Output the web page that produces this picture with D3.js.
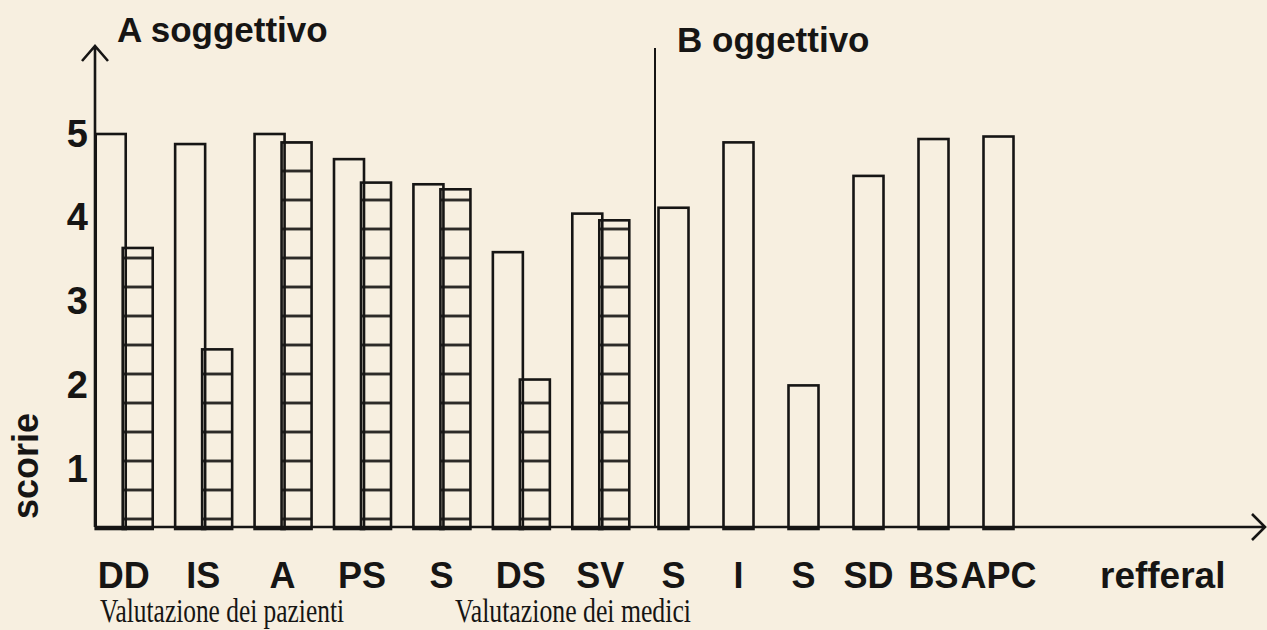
<!DOCTYPE html>
<html>
<head>
<meta charset="utf-8">
<script src="https://cdn.jsdelivr.net/npm/d3@7"></script>
<style>
  html, body { margin: 0; padding: 0; background: #f7efe0; }
  svg { display: block; }
</style>
</head>
<body>
<div id="chart"></div>
<script>
// valori
var categoriesA = ["DD", "IS", "A", "PS", "S", "DS", "SV"]
var pazienti = [5.0, 4.88, 5.0, 4.70, 4.40, 3.59, 4.05]   // barre bianche
var medici = [3.64, 2.43, 4.90, 4.42, 4.34, 2.07, 3.97]   // barre tratteggiate
var categoriesB = ["S", "I", "S", "SD", "BS", "APC"]
var oggettivo = [4.12, 4.90, 2.00, 4.50, 4.94, 4.97]
var yTicks = [1, 2, 3, 4, 5]

var width = 1267
var height = 630
var ink = '#161514'
var baseline = 527
var axisX = 95

var svg = d3.select('#chart')
    .append('svg')
    .attr('width', width)
    .attr('height', height)
    .style('background', '#f7efe0')

// tratteggio orizzontale delle barre "medici"
var step = 29
var hatch = svg.append('defs').append('pattern')
    .attr('id', 'hatch')
    .attr('patternUnits', 'userSpaceOnUse')
    .attr('x', 0)
    .attr('y', (baseline - 8 - step / 2) % step)
    .attr('width', 20)
    .attr('height', step)
hatch.append('line')
    .attr('x1', 0).attr('x2', 20)
    .attr('y1', step / 2).attr('y2', step / 2)
    .attr('stroke', ink)
    .attr('stroke-width', 2.6)

// scales
var y = d3.scaleLinear()
    .domain([0, 5])
    .range([553, 134])

var xA = d3.scaleBand()
    .domain(d3.range(categoriesA.length))
    .range([84, 640])

var xB = d3.scaleBand()
    .domain(d3.range(categoriesB.length))
    .range([641, 1031])

var barW = 30

function cA(i) { return xA(i) + xA.bandwidth() / 2 }
function cB(i) { return xB(i) + xB.bandwidth() / 2 }

// A: pazienti (bianche)
svg.append('g')
  .selectAll('rect')
  .data(pazienti)
  .join('rect')
    .attr('x', (d, i) => cA(i) - barW + 2)
    .attr('y', d => y(d))
    .attr('width', barW)
    .attr('height', d => baseline + 2 - y(d))
    .attr('fill', 'none')
    .attr('stroke', ink)
    .attr('stroke-width', 2.6)

// A: medici (tratteggiate)
svg.append('g')
  .selectAll('rect')
  .data(medici)
  .join('rect')
    .attr('x', (d, i) => cA(i) - 1)
    .attr('y', d => y(d))
    .attr('width', barW)
    .attr('height', d => baseline + 2 - y(d))
    .attr('fill', 'url(#hatch)')
    .attr('stroke', ink)
    .attr('stroke-width', 2.6)

// B: oggettivo
svg.append('g')
  .selectAll('rect')
  .data(oggettivo)
  .join('rect')
    .attr('x', (d, i) => cB(i) - barW / 2)
    .attr('y', d => y(d))
    .attr('width', barW)
    .attr('height', d => baseline + 2 - y(d))
    .attr('fill', 'none')
    .attr('stroke', ink)
    .attr('stroke-width', 2.6)

// assi con frecce
svg.append('path')
    .attr('d', `M${axisX},${baseline} V46 M${axisX - 13},61 L${axisX},46 L${axisX + 13},61`)
    .attr('fill', 'none')
    .attr('stroke', ink)
    .attr('stroke-width', 2.6)

svg.append('path')
    .attr('d', `M${axisX},${baseline} H1265 M1252,${baseline - 13} L1265,${baseline} L1252,${baseline + 13}`)
    .attr('fill', 'none')
    .attr('stroke', ink)
    .attr('stroke-width', 2.6)

// separatore A / B
svg.append('line')
    .attr('x1', 655).attr('x2', 655)
    .attr('y1', 48).attr('y2', baseline)
    .attr('stroke', ink)
    .attr('stroke-width', 2)

var bold = '"Liberation Sans", Arial, Helvetica, sans-serif'

function yAxis(g) {
    g.attr('transform', `translate(${axisX}, 0)`)
     .call(d3.axisLeft(y).tickValues(yTicks).tickSize(0).tickPadding(7).tickFormat(d3.format('d')))
     .call(g => g.select('.domain').remove())
     .selectAll('text')
       .attr('fill', ink)
       .attr('font-family', bold)
       .attr('font-weight', 'bold')
       .attr('font-size', '38px')
}

function xAxis(scale, labels) {
    return function(g) {
        g.attr('transform', `translate(0, ${baseline})`)
         .call(d3.axisBottom(scale).tickSize(0).tickPadding(35).tickFormat(i => labels[i]))
         .call(g => g.select('.domain').remove())
         .selectAll('text')
           .attr('fill', ink)
           .attr('font-family', bold)
           .attr('font-weight', 'bold')
           .attr('font-size', '36px')
    }
}

svg.append('g').call(yAxis)
svg.append('g').call(xAxis(xA, categoriesA))
svg.append('g').call(xAxis(xB, categoriesB))

svg.append('text')
   .attr('x', 1100)
   .attr('y', 588)
   .attr('fill', ink)
   .attr('font-family', bold)
   .attr('font-weight', 'bold')
   .attr('font-size', '37px')
   .text('refferal')

svg.append('text')
   .attr('transform', 'translate(38, 466) rotate(-90)')
   .attr('text-anchor', 'middle')
   .attr('fill', ink)
   .attr('font-family', bold)
   .attr('font-weight', 'bold')
   .attr('font-size', '36px')
   .text('scorie')

// titoli
svg.append('text')
   .attr('x', 117)
   .attr('y', 42)
   .attr('fill', ink)
   .attr('font-family', bold)
   .attr('font-weight', 'bold')
   .attr('font-size', '35px')
   .text('A soggettivo')

svg.append('text')
   .attr('x', 677)
   .attr('y', 52)
   .attr('fill', ink)
   .attr('font-family', bold)
   .attr('font-weight', 'bold')
   .attr('font-size', '35px')
   .text('B oggettivo')

// didascalie
var serif = '"Liberation Serif", "Times New Roman", serif'
svg.append('text')
   .attr('x', 100)
   .attr('y', 622)
   .attr('fill', ink)
   .attr('font-family', serif)
   .attr('font-size', '33px')
   .attr('textLength', 244)
   .attr('lengthAdjust', 'spacingAndGlyphs')
   .text('Valutazione dei pazienti')

svg.append('text')
   .attr('x', 455)
   .attr('y', 622)
   .attr('fill', ink)
   .attr('font-family', serif)
   .attr('font-size', '33px')
   .attr('textLength', 236)
   .attr('lengthAdjust', 'spacingAndGlyphs')
   .text('Valutazione dei medici')
</script>
</body>
</html>
